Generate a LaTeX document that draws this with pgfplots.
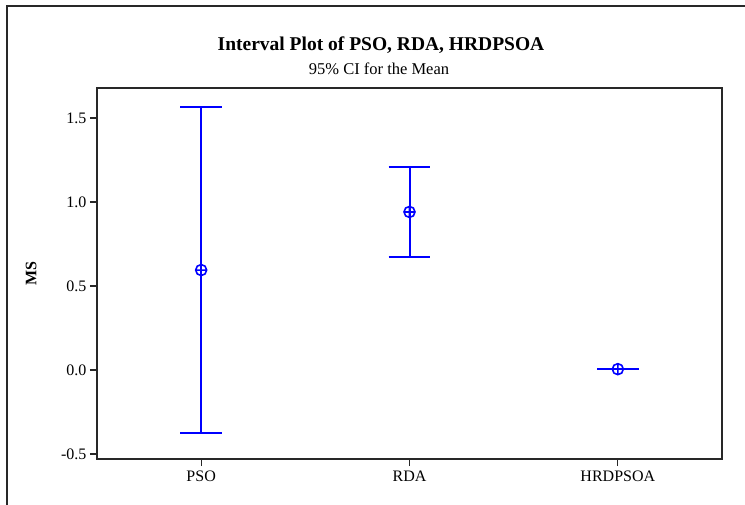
\documentclass[border=0pt]{standalone}
\usepackage{pgfplots}
\pgfplotsset{compat=1.18}
\usepackage{fontspec}
\setmainfont{Liberation Serif}
\definecolor{mtbblue}{RGB}{0,0,255}
\definecolor{frame}{RGB}{40,40,40}
\begin{document}
\begin{tikzpicture}
\useasboundingbox (0,0) rectangle (745pt,-504pt);
\draw[frame, line width=1.5pt] (7pt,-520pt) -- (7pt,-6pt) -- (760pt,-6pt);
\node[font=\fontsize{19.5}{22}\selectfont\bfseries, anchor=base] at (381pt,-50pt) {Interval Plot of PSO, RDA, HRDPSOA};
\node[font=\fontsize{16.5}{19}\selectfont, anchor=base] at (379pt,-74pt) {95\% CI for the Mean};
\begin{axis}[
  at={(97pt,-88pt)}, anchor=north west,
  scale only axis, width=625pt, height=371pt,
  xmin=0.5, xmax=3.5, ymin=-0.53, ymax=1.679,
  xtick={1,2,3}, xticklabels={PSO,RDA,HRDPSOA},
  ytick={-0.5,0,0.5,1,1.5},
  yticklabels={-0.5,0.0,0.5,1.0,1.5},
  tick align=outside, xtick pos=bottom, ytick pos=left,
  major tick length=7pt,
  tick style={frame, line width=1.2pt},
  axis line style={frame, line width=1.3pt},
  ticklabel style={font=\fontsize{16}{18}\selectfont},
  xticklabel style={yshift=-1pt},
  ylabel={\textbf{MS}},
  ylabel style={font=\fontsize{16}{18}\selectfont, at={(-57pt,0.5)}, anchor=south},
  clip=false,
  unbounded coords=jump,
]
% interval lines (vertical) and caps
\addplot[mtbblue, line width=2pt, mark=none] coordinates {
  (1,-0.375) (1,1.565) (nan,nan)
  (0.9,1.565) (1.1,1.565) (nan,nan)
  (0.9,-0.375) (1.1,-0.375) (nan,nan)
  (2,0.674) (2,1.208) (nan,nan)
  (1.9,1.208) (2.1,1.208) (nan,nan)
  (1.9,0.674) (2.1,0.674) (nan,nan)
  (3,0.004) (3,0.006) (nan,nan)
  (2.9,0.005) (3.1,0.005)
};
% means
\addplot[only marks, mtbblue, mark=oplus, mark size=5.5pt,
  mark options={mtbblue, line width=1.6pt}] coordinates {
  (1,0.595) (2,0.941) (3,0.005)
};
\end{axis}
\end{tikzpicture}
\end{document}
